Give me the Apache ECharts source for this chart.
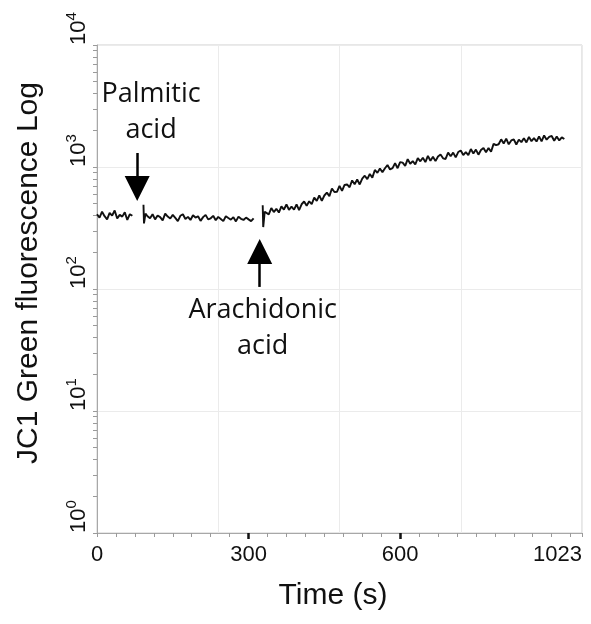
<!DOCTYPE html>
<html>
<head>
<meta charset="utf-8">
<script src="https://cdn.jsdelivr.net/npm/echarts@6/dist/echarts.min.js"></script>
<style>
  html, body { margin: 0; padding: 0; background: #fff; }
  #main { width: 591px; height: 624px; }
</style>
</head>
<body>
<div id="main"></div>
<script>
// trace before palmitic acid (time s, fluorescence)
var baseline1 = [[0,410],[5,385],[10,430],[15,395],[20,372],[25,420],[30,400],[35,440],[40,378],[45,405],
  [50,392],[55,425],[60,368],[65,410],[70,398]];

// trace after palmitic acid, starts with the addition spike
var baseline2 = [[92,490],[93,345],[96,415],
  [100,395],[105,380],[110,410],[115,372],[120,400],[125,388],[130,365],[135,415],[140,392],[145,378],
  [150,405],[155,383],[160,360],[165,398],[170,410],[175,375],[180,390],[185,368],[190,402],[195,385],
  [200,395],[205,362],[210,388],[215,405],[220,372],[225,380],[230,398],[235,366],[240,390],[245,375],
  [250,360],[255,395],[260,382],[265,370],[270,388],[275,358],[280,392],[285,376],[290,368],[295,385],
  [300,372],[305,360],[310,380]];

// trace after arachidonic acid, starts with the addition spike
var rise = [[328,485],[329,322],[332,430],
  [335,442],[340,409],[345,461],[350,427],[355,454],[360,423],[365,476],[370,448],[375,493],[380,446],
  [385,473],[390,447],[395,493],[400,444],[405,495],[410,522],[415,482],[420,523],[425,497],[430,561],
  [435,527],[440,586],[445,528],[450,584],[455,616],[460,577],[465,666],[470,624],[475,626],[480,700],
  [485,637],[490,712],[495,719],[500,682],[505,776],[510,723],[515,789],[520,719],[525,804],[530,848],
  [535,796],[540,876],[545,819],[550,946],[555,895],[560,972],[565,904],[570,976],[575,1039],[580,955],
  [585,980],[590,1075],[595,977],[600,1095],[605,1085],[610,1021],[615,1161],[620,1063],[625,1117],[630,1049],
  [635,1182],[640,1114],[645,1192],[650,1096],[655,1233],[660,1124],[665,1215],[670,1117],[675,1220],[680,1264],
  [685,1178],[690,1164],[695,1311],[700,1224],[705,1311],[710,1198],[715,1326],[720,1365],[725,1253],[730,1325],
  [735,1252],[740,1403],[745,1290],[750,1390],[755,1262],[760,1377],[765,1430],[770,1321],[775,1432],[780,1334],
  [785,1548],[790,1509],[795,1536],[800,1685],[805,1560],[810,1709],[815,1534],[820,1650],[825,1687],[830,1528],
  [835,1678],[840,1599],[845,1724],[850,1589],[855,1766],[860,1628],[865,1724],[870,1617],[875,1783],[880,1622],
  [885,1814],[890,1676],[895,1763],[900,1797],[905,1642],[910,1777],[915,1651],[920,1749],[925,1695]];

var xTickLabels = [0, 300, 600, 960];   // 960 s is printed as 1023 (channel end)
var xBoldTicks = [300, 600];
var decades = [0, 1, 2, 3];
var mantissas = [1, 2, 3, 4, 5, 6, 7, 8, 9];

// arrows: [time, from, to]
var palmiticArrow = [79.5, 1303, 667];
var arachidonicArrow = [322, 104, 203];

var logTicks = [4];
decades.forEach(function (d) {
  mantissas.forEach(function (m) { logTicks.push(d + Math.log10(m)); });
});

var chart = echarts.init(document.getElementById('main'));

var axisFont = 'Liberation Sans, Arial, sans-serif';
var noteFont = 'Open Sans, sans-serif';

var lineSeries = function (data) {
  return {
    type: 'line',
    data: data,
    showSymbol: false,
    symbol: 'none',
    lineStyle: { color: '#111', width: 1.9 },
    animation: false,
    z: 3
  };
};

var s3 = lineSeries(rise);
s3.markLine = {
  silent: true,
  symbol: ['none', 'triangle'],
  symbolSize: 25,
  label: { show: false },
  lineStyle: { color: '#000', width: 2.5, type: 'solid' },
  animation: false,
  data: [
    [{ coord: [palmiticArrow[0], palmiticArrow[1]] }, { coord: [palmiticArrow[0], palmiticArrow[2]] }],
    [{ coord: [arachidonicArrow[0], arachidonicArrow[1]] }, { coord: [arachidonicArrow[0], arachidonicArrow[2]] }]
  ]
};
s3.markPoint = {
  silent: true,
  symbol: 'circle',
  symbolSize: 1,
  itemStyle: { color: 'rgba(0,0,0,0)' },
  animation: false,
  label: {
    show: true,
    position: 'inside',
    color: '#111',
    fontFamily: noteFont,
    fontSize: 27,
    lineHeight: 36,
    align: 'center'
  },
  data: [
    { coord: [107, 2800], label: { formatter: 'Palmitic\nacid' } },
    { coord: [328, 48], label: { formatter: 'Arachidonic\nacid' } }
  ]
};

var option = {
  backgroundColor: '#fff',
  animation: false,
  grid: {
    left: 97, right: 9, top: 45, bottom: 91,
    show: true, borderColor: '#cfcfcf', borderWidth: 1
  },
  xAxis: [
    {
      type: 'value', min: 0, max: 960, interval: 240,
      axisLine: { lineStyle: { color: '#a8a8a8' } },
      axisTick: { show: false },
      axisLabel: { show: false },
      splitLine: { show: true, lineStyle: { color: '#ebebeb' } }
    },
    {
      type: 'value', min: 0, max: 960, interval: 37.5, position: 'bottom',
      axisLine: { show: false },
      axisTick: { show: true, length: 4, lineStyle: { color: '#9a9a9a' } },
      axisLabel: { show: false },
      splitLine: { show: false }
    },
    {
      type: 'value', min: 0, max: 960, position: 'bottom',
      name: 'Time (s)', nameLocation: 'middle', nameGap: 48,
      nameTextStyle: { fontFamily: axisFont, fontSize: 30, color: '#111', padding: [0, 13, 0, 0] },
      axisLine: { show: false },
      axisTick: { show: true, length: 6, customValues: xBoldTicks, lineStyle: { color: '#111', width: 2.5 } },
      axisLabel: {
        customValues: xTickLabels,
        margin: 11,
        fontFamily: axisFont, fontSize: 22, color: '#111',
        alignMaxLabel: 'right',
        formatter: function (v) { return v === 960 ? '1023' : String(v); }
      },
      splitLine: { show: false }
    }
  ],
  yAxis: [
    {
      type: 'log', logBase: 10, min: 1, max: 10000,
      name: 'JC1 Green fluorescence Log', nameLocation: 'middle', nameGap: 53,
      nameTextStyle: { fontFamily: axisFont, fontSize: 30, color: '#111', padding: [0, 0, 0, 32] },
      axisLine: { show: true, lineStyle: { color: '#a8a8a8' } },
      axisTick: { show: false },
      splitLine: { show: true, lineStyle: { color: '#ebebeb' } },
      axisLabel: {
        rotate: 90,
        align: 'left',
        verticalAlign: 'bottom',
        margin: 7,
        color: '#111',
        formatter: function (v) {
          return '{b|10}{s|' + Math.round(Math.log10(v)) + '}';
        },
        rich: {
          b: { fontFamily: axisFont, fontSize: 22, lineHeight: 26, verticalAlign: 'bottom', color: '#111' },
          s: { fontFamily: axisFont, fontSize: 15, lineHeight: 15, verticalAlign: 'top', color: '#111' }
        }
      }
    },
    {
      type: 'value', min: 0, max: 4, position: 'left',
      axisLine: { show: false },
      axisTick: { show: true, length: 4, customValues: logTicks, lineStyle: { color: '#9a9a9a' } },
      axisLabel: { show: false },
      splitLine: { show: false }
    }
  ],
  series: [lineSeries(baseline1), lineSeries(baseline2), s3]
};

chart.setOption(option);
</script>
</body>
</html>
